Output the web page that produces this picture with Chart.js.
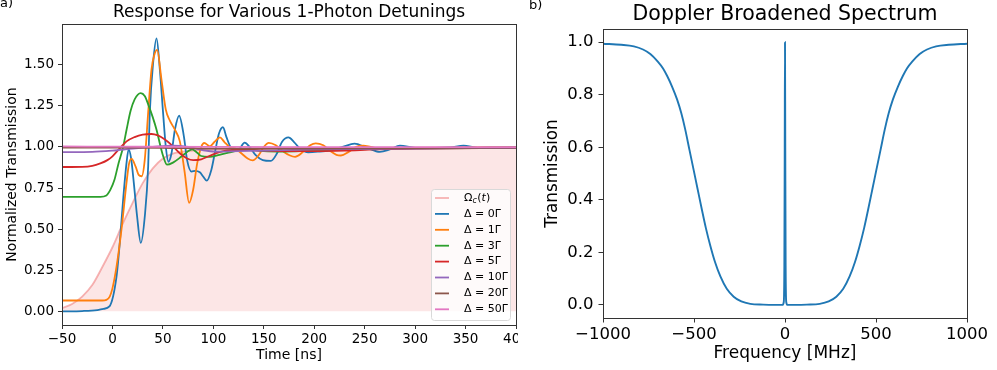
<!DOCTYPE html>
<html>
<head>
<meta charset="utf-8">
<script src="https://cdn.jsdelivr.net/npm/chart.js@4.4.0/dist/chart.umd.min.js"></script>
<style>
  body { margin: 0; background: #fff; font-family: "DejaVu Sans", sans-serif; }
  #left { position: absolute; left: 0; top: 0; width: 518px; height: 370px; overflow: hidden; }
  #right { position: absolute; left: 530px; top: 0; width: 467px; height: 370px; }
  .tag { position: absolute; font-size: 13px; color: #000; }
</style>
</head>
<body>
<div id="left"><canvas id="resp" width="540" height="370"></canvas></div>
<div id="right"><canvas id="spec" width="467" height="370"></canvas></div>
<div class="tag" style="left:0;top:-5px">a)</div>
<div class="tag" style="left:529px;top:-3px">b)</div>
<script>
// ---- panel a) : [time ns, normalized transmission] ----
const detunings = [0, 1, 3, 5, 10, 20, 50];
const colors = ['#1f77b4', '#ff7f0e', '#2ca02c', '#d62728', '#9467bd', '#8c564b', '#e377c2'];

const omegaC = [[-50,0.02],[-40,0.045],[-30,0.09],[-20,0.16],[-10,0.27],[0,0.39],[10,0.53],[20,0.66],
  [30,0.78],[40,0.87],[50,0.93],[60,0.96],[75,0.975],[100,0.985],[150,0.99],[250,0.995],[400,0.998]];

const delta0 = [[-50,0],[-30,0.002],[-15,0.008],[-9,0.015],[-3,0.03],[4,0.21],[7.3,0.42],[10.6,0.68],[13.9,0.9],
  [16,0.985],[18.5,0.93],[21.2,0.78],[24.4,0.58],[28.1,0.416],[32.1,0.58],[35.4,0.88],[37,1.207],[40.3,1.51],
  [43.7,1.66],[47,1.47],[50.2,1.207],[52.9,1.0],[55.5,0.91],[58.5,0.96],[61.9,1.105],[66.1,1.19],[70.8,1.065],
  [74,0.92],[78.4,0.85],[82,0.855],[86.6,0.846],[90,0.82],[93.5,0.795],[98,0.86],[102,0.98],[105.5,1.08],
  [109.5,1.12],[113,1.06],[117,1.0],[122,0.975],[126,0.99],[131,1.026],[136,1.0],[142,0.95],[149,0.92],
  [157,0.915],[163,0.96],[168,1.03],[174.5,1.058],[180,1.03],[186,0.99],[194,0.967],[205,0.972],[215,0.98],
  [228,1.0],[240,1.02],[252,0.995],[265,0.97],[275,0.985],[285,1.008],[300,0.995],[320,0.995],[335,0.998],
  [348,1.008],[362,0.995],[380,0.998],[400,1.0]];

const delta1 = [[-50,0.066],[-10,0.066],[-6,0.07],[-2.7,0.09],[0,0.14],[4,0.27],[9,0.5],[13.9,0.78],[16.5,0.9],
  [19,0.927],[23,0.88],[26,0.83],[29,0.822],[32,0.92],[35.4,1.207],[38.7,1.47],[41.5,1.56],[44.3,1.59],
  [48.6,1.41],[52.9,1.227],[56.9,1.16],[61.9,1.105],[66.8,1.034],[71.5,0.85],[76,0.66],[80,0.74],[84,0.9],
  [88,1.0],[91,1.024],[96.6,1.004],[101,1.03],[106.5,1.058],[111,1.03],[116,1.0],[122,0.99],[128,0.96],
  [134,0.93],[139,0.918],[145,0.95],[150,1.0],[155,1.025],[162,1.01],[170,0.97],[176,0.948],[181,0.94],
  [189,0.97],[196,1.01],[201.5,1.022],[209,1.01],[216,0.975],[222,0.952],[226.5,0.948],[234,0.97],[241,1.0],
  [248.7,1.008],[256,1.0],[265,0.99],[280,0.99],[300,0.993],[400,0.998]];

const delta3 = [[-50,0.697],[-12,0.697],[-6,0.705],[-2,0.74],[2,0.8],[6,0.9],[10.6,1.0],[14,1.105],[18,1.22],
  [22,1.29],[28,1.328],[32,1.31],[36,1.25],[40,1.18],[43.7,1.105],[47,1.02],[50,0.95],[54,0.892],[60,0.905],
  [68,0.94],[74,0.97],[79,0.985],[84,0.965],[88,0.945],[96,0.94],[106,0.952],[115,0.965],[125,0.98],
  [135,0.985],[150,0.975],[170,0.972],[190,0.975],[210,0.98],[240,0.985],[280,0.99],[400,0.995]];

const delta5 = [[-50,0.878],[-30,0.879],[-20,0.885],[-12,0.9],[-5,0.92],[0,0.943],[7,0.99],[14,1.034],[22,1.06],
  [30,1.075],[38.7,1.079],[45,1.07],[52,1.045],[60,1.004],[67,0.96],[74,0.93],[80,0.92],[88,0.925],[96,0.945],
  [106,0.968],[120,0.982],[140,0.98],[170,0.975],[200,0.975],[230,0.978],[260,0.985],[300,0.99],[400,0.995]];

const delta10 = [[-50,0.968],[-20,0.97],[0,0.978],[20,0.99],[40,1.0],[60,1.008],[75,1.0],[90,0.98],[102,0.972],
  [125,0.975],[150,0.978],[200,0.985],[300,0.99],[400,0.995]];

const delta20 = [[-50,0.996],[0,0.996],[50,0.995],[100,0.99],[150,0.99],[200,0.99],[300,0.993],[400,0.996]];

const delta50 = [[-50,1.003],[0,1.002],[100,1.0],[200,0.999],[400,0.999]];

const respSeries = [delta0, delta1, delta3, delta5, delta10, delta20, delta50];

// ---- panel b) : [frequency MHz, transmission] ----
const spectrum = [[-1000,0.994],[-900,0.99],[-830,0.984],[-780,0.972],[-740,0.955],[-700,0.927],[-670,0.9],
  [-648,0.872],[-620,0.83],[-593,0.782],[-570,0.73],[-548,0.667],[-525,0.59],[-502,0.514],[-480,0.44],
  [-456,0.36],[-435,0.293],[-410,0.224],[-385,0.164],[-355,0.108],[-320,0.061],[-282,0.031],[-240,0.013],
  [-191,0.004],[-120,0.001],[-60,0],[-14,0],[-7,0.01],[-3.5,0.15],[-1.5,0.6],[0,1.0],[1.5,0.6],[3.5,0.15],
  [7,0.01],[14,0],[60,0],[120,0.001],[191,0.004],[240,0.013],[282,0.031],[320,0.061],[355,0.108],[385,0.164],
  [410,0.224],[435,0.293],[456,0.36],[480,0.44],[502,0.514],[525,0.59],[548,0.667],[570,0.73],[593,0.782],
  [620,0.83],[648,0.872],[670,0.9],[700,0.927],[740,0.955],[780,0.972],[830,0.984],[900,0.99],[1000,0.994]];

Chart.defaults.font.family = "'DejaVu Sans', sans-serif";
Chart.defaults.color = '#000';

const toXY = arr => arr.map(p => ({ x: p[0], y: p[1] }));
const minus = v => String(v).replace('-', '\u2212');

const frame = {
  id: 'frame',
  afterDraw(chart) {
    const { ctx, chartArea: a } = chart;
    ctx.save();
    ctx.strokeStyle = '#333';
    ctx.lineWidth = 1;
    ctx.strokeRect(a.left + 0.5, a.top + 0.5, a.right - a.left, a.bottom - a.top);
    ctx.restore();
  }
};

const legendBox = {
  id: 'legendBox',
  afterDraw(chart) {
    const ctx = chart.ctx;
    const a = chart.chartArea;
    const x0 = a.right - 85, y0 = a.bottom - 136, w = 79, h = 131;
    ctx.save();
    ctx.beginPath();
    ctx.roundRect(x0 + 0.5, y0 + 0.5, w, h, 3);
    ctx.fillStyle = 'rgba(255,255,255,0.8)';
    ctx.fill();
    ctx.strokeStyle = '#d9d9d9';
    ctx.lineWidth = 1;
    ctx.stroke();
    const rows = [{ color: 'rgba(240,128,128,0.6)', label: null }].concat(
      detunings.map((d, i) => ({ color: colors[i], label: '\u0394 = ' + d + '\u0393' })));
    ctx.textBaseline = 'middle';
    rows.forEach((r, i) => {
      const y = y0 + 9 + i * 15.9;
      ctx.strokeStyle = r.color;
      ctx.lineWidth = 1.8;
      ctx.beginPath();
      ctx.moveTo(x0 + 4, y);
      ctx.lineTo(x0 + 18, y);
      ctx.stroke();
      ctx.fillStyle = '#000';
      let tx = x0 + 33;
      if (r.label) {
        ctx.font = "11px 'DejaVu Sans'";
        ctx.fillText(r.label, tx, y);
      } else {
        ctx.font = "11px 'DejaVu Sans'";
        ctx.fillText('\u03A9', tx, y);
        tx += ctx.measureText('\u03A9').width;
        ctx.font = "italic 8px 'DejaVu Sans'";
        ctx.fillText('c', tx, y + 3);
        tx += ctx.measureText('c').width + 0.5;
        ctx.font = "11px 'DejaVu Sans'";
        ctx.fillText('(', tx, y);
        tx += ctx.measureText('(').width;
        ctx.font = "italic 11px 'DejaVu Sans'";
        ctx.fillText('t', tx, y);
        tx += ctx.measureText('t').width;
        ctx.font = "11px 'DejaVu Sans'";
        ctx.fillText(')', tx, y);
      }
    });
    ctx.restore();
  }
};

function axis(opts) {
  return {
    type: 'linear',
    min: opts.min,
    max: opts.max,
    grid: { drawOnChartArea: false, drawTicks: true, tickLength: opts.tick, color: '#333', tickWidth: 1 },
    border: { display: true, color: '#333' },
    ticks: {
      stepSize: opts.step,
      includeBounds: false,
      autoSkip: false,
      maxRotation: 0,
      padding: opts.pad,
      font: { size: opts.font },
      callback: opts.fmt
    },
    title: { display: true, text: opts.title, font: { size: opts.titleFont }, padding: opts.titlePad },
    afterFit: s => {
      if (opts.width) s.width = opts.width;
      if (opts.height) s.height = opts.height;
      s.paddingLeft = 0; s.paddingRight = 0; s.paddingTop = 0; s.paddingBottom = 0;
    }
  };
}

const respSets = [{
  data: toXY(omegaC),
  borderColor: 'rgba(240,128,128,0.6)',
  backgroundColor: 'rgba(240,128,128,0.2)',
  fill: 'origin',
  borderWidth: 1.8,
  order: 0
}].concat(respSeries.map((s, i) => ({
  data: toXY(s),
  borderColor: colors[i],
  borderWidth: 1.8,
  fill: false,
  order: -(i + 1)
})));

new Chart(document.getElementById('resp'), {
  type: 'line',
  data: { datasets: respSets },
  options: {
    responsive: false,
    animation: false,
    layout: { padding: { left: 0, right: 24, top: 0, bottom: 0 } },
    elements: { point: { radius: 0 }, line: { cubicInterpolationMode: 'monotone' } },
    plugins: {
      legend: { display: false },
      tooltip: { enabled: false },
      title: { display: true, text: 'Response for Various 1-Photon Detunings', fullSize: false,
        font: { size: 17, weight: 'normal' }, padding: { top: 2, bottom: 1.6 } }
    },
    scales: {
      x: axis({ min: -50, max: 400, step: 50, tick: 4, pad: 2, font: 13.5, fmt: v => minus(v),
        title: 'Time [ns]', titleFont: 14, titlePad: { top: 0, bottom: 6 }, height: 45 }),
      y: axis({ min: -0.083, max: 1.748, step: 0.25, tick: 4, pad: 4, font: 13.5, fmt: v => minus(v.toFixed(2)),
        title: 'Normalized Transmission', titleFont: 14, titlePad: { top: 4, bottom: 0 }, width: 62 })
    }
  },
  plugins: [frame, legendBox]
});

new Chart(document.getElementById('spec'), {
  type: 'line',
  data: { datasets: [{ data: toXY(spectrum), borderColor: '#1f77b4', borderWidth: 1.9, fill: false }] },
  options: {
    responsive: false,
    animation: false,
    layout: { padding: { left: 0, right: 30, top: 0, bottom: 0 } },
    elements: { point: { radius: 0 }, line: { cubicInterpolationMode: 'monotone' } },
    plugins: {
      legend: { display: false },
      tooltip: { enabled: false },
      title: { display: true, text: 'Doppler Broadened Spectrum', fullSize: false,
        font: { size: 20.5, weight: 'normal' }, padding: { top: 2, bottom: 2.4 } }
    },
    scales: {
      x: axis({ min: -1000, max: 1000, step: 500, tick: 4.5, pad: 2, font: 16.5, fmt: v => minus(v),
        title: 'Frequency [MHz]', titleFont: 17, titlePad: { top: 0, bottom: 6 }, height: 52 }),
      y: axis({ min: -0.05, max: 1.05, step: 0.2, tick: 4.5, pad: 5, font: 16.5, fmt: v => minus(v.toFixed(1)),
        title: 'Transmission', titleFont: 16.8, titlePad: { top: 13, bottom: 0 }, width: 73 })
    }
  },
  plugins: [frame]
});
</script>
</body>
</html>
